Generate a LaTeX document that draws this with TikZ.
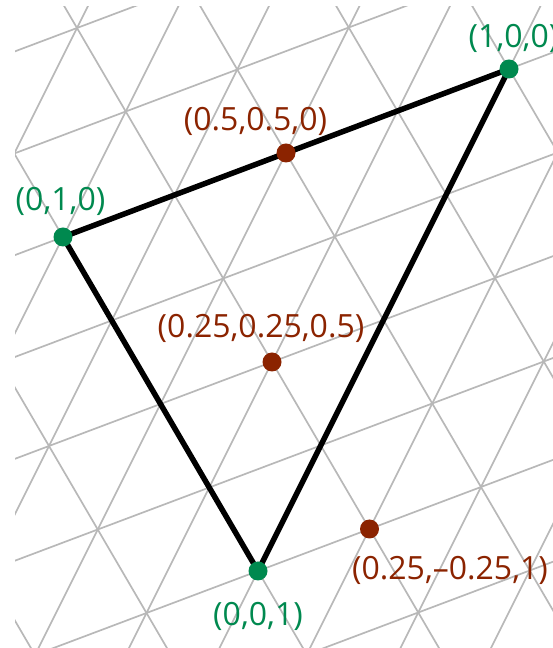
\documentclass[tikz,border=0pt]{standalone}
\usepackage{fontspec}
\setmainfont{Open Sans}
\usepackage{xcolor}
\usepackage{tikz}
\definecolor{barygreen}{HTML}{00894F}
\definecolor{baryred}{HTML}{8B2300}
\definecolor{barygrid}{HTML}{B8B8B8}

\begin{document}
\begin{tikzpicture}[x=1pt,y=1pt,
    gridline/.style={barygrid,line width=1.7pt},
    lbl/.style={font=\fontsize{32}{38}\selectfont,inner sep=0pt}]
  \useasboundingbox (0,0) rectangle (553,648);
  % lattice in barycentric steps of 0.25
  \begin{scope}
    \clip (15,0) rectangle (553,641);
    \begin{scope}[shift={(63,411)},x={(111.5pt,42pt)},y={(48.75pt,-83.5pt)}]
      \foreach \k in {-4,...,9} {
        \draw[gridline] (\k,-10) -- (\k,10);
        \draw[gridline] (-10,\k) -- (10,\k);
        \draw[gridline] (\k+10,-10) -- (\k-10,10);
      }
      \coordinate (A) at (4,0);
      \coordinate (B) at (0,0);
      \coordinate (C) at (0,4);
      \coordinate (AB) at (2,0);
      \coordinate (M) at (1,2);
      \coordinate (Q) at (1,4);
    \end{scope}
  \end{scope}
  \draw[line width=5.5pt,line join=round] (A) -- (B) -- (C) -- cycle;
  \fill[barygreen] (A) circle[radius=9.5pt];
  \fill[barygreen] (B) circle[radius=9.5pt];
  \fill[barygreen] (C) circle[radius=9.5pt];
  \fill[baryred] (AB) circle[radius=9.5pt];
  \fill[baryred] (M) circle[radius=9.5pt];
  \fill[baryred] (Q) circle[radius=9.5pt];
  \node[lbl,barygreen] (lA) at (513.5,609.5) {(1,0,0)};
  \node[lbl,barygreen] (lB) at (60.5,446.5) {(0,1,0)};
  \node[lbl,barygreen] (lC) at (258,32) {(0,0,1)};
  \node[lbl,baryred] (lAB) at (255.5,527) {(0.5,0.5,0)};
  \node[lbl,baryred] (lM) at (261,320) {(0.25,0.25,0.5)};
  \node[lbl,baryred] (lQ) at (450,78) {(0.25,–0.25,1)};
\end{tikzpicture}
\end{document}
